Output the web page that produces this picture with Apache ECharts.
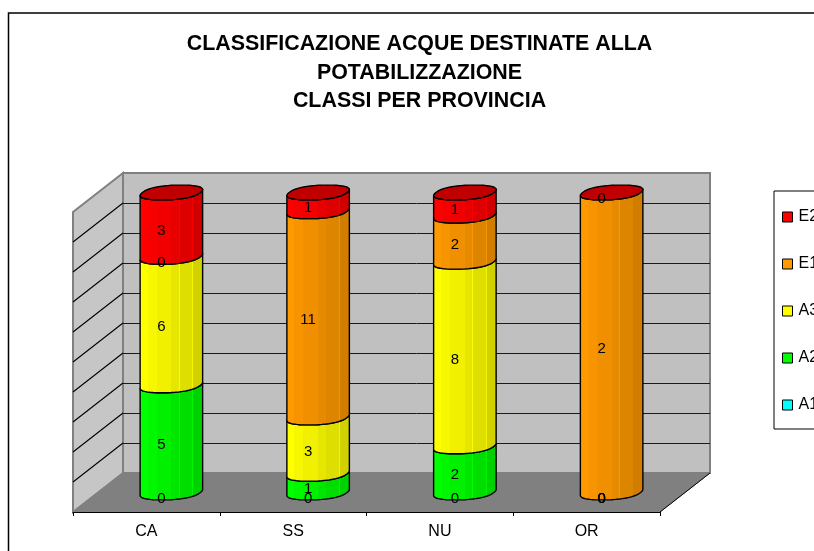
<!DOCTYPE html>
<html><head><meta charset="utf-8">
<style>html,body{margin:0;padding:0;background:#fff}#c{width:814px;height:551px}</style>
<script src="https://cdn.jsdelivr.net/npm/echarts@6/dist/echarts.min.js"></script>
</head><body><div id="c"></div>
<script>
var categories = ['CA','SS','NU','OR'];
var seriesNames = ['A1','A2','A3','E1','E2'];
var A1 = [0,0,0,0];
var A2 = [5,1,2,0];
var A3 = [6,3,8,0];
var E1 = [0,11,2,2];
var E2 = [3,1,1,0];
var seriesValues = [A1,A2,A3,E1,E2];
var legendOrder = ['E2','E1','A3','A2','A1'];
var percentTicks = [0,10,20,30,40,50,60,70,80,90,100];
var titleText = 'CLASSIFICAZIONE ACQUE DESTINATE ALLA\nPOTABILIZZAZIONE\nCLASSI PER PROVINCIA';

var FONT = '"Liberation Sans", Arial, sans-serif';
var DEPTH = [50, -39];
var RADIUS = 29, DEPTH_R = 0.19, SQUARE = 0.86;
var swatch = ['#00ffff','#00ff00','#ffff00','#ff9900','#ff0000'];
var caps = ['#00bfbf','#00c000','#c0c000','#c07300','#c00000'];

function bandGradient(h){
  var lerp = echarts.color.lerp;
  function shade(f){ return lerp(1-f,[h,'#000000']); }
  var st = [[0,1],[.13,.97],[.27,.94],[.5,.9],[.63,.87],[.84,.82]];
  var stops = [];
  st.forEach(function(s,i){
    var end = i<st.length-1 ? st[i+1][0] : 1;
    stops.push({offset:s[0],color:shade(s[1])});
    stops.push({offset:end-0.012,color:shade(s[1])});
    var edge = (s[0]===.5||s[0]===.63) ? Math.min(1,s[1]+.09) : s[1];
    stops.push({offset:end-0.012,color:shade(edge)});
    stops.push({offset:end,color:shade(edge)});
  });
  stops.push({offset:1,color:shade(.75)});
  return {type:'linear',x:0,y:0,x2:1,y2:0,colorStops:stops};
}
function soft(v){ return (v<0?-1:1)*Math.pow(Math.abs(v),SQUARE); }
function ringPoint(c,t){
  var cs=soft(Math.cos(t)), s=soft(Math.sin(t));
  return [c[0]+RADIUS*cs+DEPTH[0]*DEPTH_R*s, c[1]+DEPTH[1]*DEPTH_R*s];
}
function ring(c){
  var pts=[],N=48;
  for(var i=0;i<N;i++) pts.push(ringPoint(c,2*Math.PI*i/N));
  return pts;
}
function frontArc(c){
  // leftmost point to rightmost point along the viewer-facing side (y grows downward)
  var pts=ring(c), lo=0, hi=0, i, out=[];
  for(i=0;i<pts.length;i++){ if(pts[i][0]<pts[lo][0]) lo=i; if(pts[i][0]>pts[hi][0]) hi=i; }
  i=lo;
  while(true){ out.push(pts[i]); if(i===hi) break; i=(i+1)%pts.length; }
  return out;
}
function midDepth(p){ return [p[0]+DEPTH[0]/2,p[1]+DEPTH[1]/2]; }

function cylinderRender(si){
  return function(params,api){
    var cat=api.value(0), lo=api.value(1), hi=api.value(2), val=api.value(3);
    var b=midDepth(api.coord([cat,lo])), t=midDepth(api.coord([cat,hi]));
    var kids=[];
    if(hi>lo){
      var bot=frontArc(b), top=frontArc(t).reverse();
      kids.push({type:'polygon',z2:si*2+1,shape:{points:bot.concat(top)},
        style:{fill:bandGradient(swatch[si]),stroke:'#000',lineWidth:1.4,lineJoin:'round'}});
    }
    if(si===seriesNames.length-1){
      kids.push({type:'polygon',z2:si*2+2,shape:{points:ring(t)},
        style:{fill:caps[si],stroke:'#000',lineWidth:1.4,lineJoin:'round'}});
    }
    var m=midDepth(api.coord([cat,(lo+hi)/2]));
    kids.push({type:'text',z2:50,style:{
      x:m[0]-DEPTH[0]*0.2, y:m[1]-DEPTH[1]*0.19-1.5,
      text:String(val),fill:'#000',font:'15px '+FONT,align:'center',verticalAlign:'middle'}});
    return {type:'group',children:kids};
  };
}
function stacked(si){
  return categories.map(function(_,c){
    var tot=0,acc=0,i;
    for(i=0;i<seriesValues.length;i++) tot+=seriesValues[i][c];
    for(i=0;i<si;i++) acc+=seriesValues[i][c];
    var v=seriesValues[si][c];
    return [c,acc/tot*100,(acc+v)/tot*100,v];
  });
}
function wallsRender(params,api){
  var g=params.coordSys, L=g.x,R=g.x+g.width,T=g.y,B=g.y+g.height,dx=DEPTH[0],dy=DEPTH[1];
  return {type:'group',children:[
    {type:'polygon',z2:1,shape:{points:[[L+dx,T+dy],[R+dx,T+dy],[R+dx,B+dy],[L+dx,B+dy]]},style:{fill:'#c0c0c0',stroke:'#808080',lineWidth:2}},
    {type:'polygon',z2:1,shape:{points:[[L,T],[L+dx,T+dy],[L+dx,B+dy],[L,B]]},style:{fill:'#c6c6c6',stroke:'#808080',lineWidth:2}},
    {type:'polygon',z2:3,shape:{points:[[L,B],[L+dx,B+dy],[R+dx,B+dy],[R,B]]},style:{fill:'#808080',stroke:'#808080',lineWidth:1}},
    {type:'line',z2:4,shape:{x1:R,y1:B,x2:R+dx,y2:B+dy},style:{stroke:'#000',lineWidth:1}}
  ]};
}
function gridRender(params,api){
  var v=api.value(0), g=params.coordSys, y=api.coord([0,v])[1];
  var L=g.x,R=g.x+g.width,dx=DEPTH[0],dy=DEPTH[1];
  return {type:'group',children:[
    {type:'line',z2:2,shape:{x1:L+dx,y1:y+dy+0.5,x2:R+dx,y2:y+dy+0.5},style:{stroke:'#1a1a1a',lineWidth:1}},
    {type:'line',z2:2,shape:{x1:L,y1:y,x2:L+dx,y2:y+dy},style:{stroke:'#000',lineWidth:1.1}}
  ]};
}

var series=[
  {type:'custom',name:'walls',z:1,silent:true,clip:false,coordinateSystem:'cartesian2d',renderItem:wallsRender,data:[[0,0]],encode:{x:0,y:1}},
  {type:'custom',name:'gridlines',z:1,silent:true,clip:false,coordinateSystem:'cartesian2d',renderItem:gridRender,
   data:percentTicks.slice(1,-1).map(function(p){return [p];}),encode:{y:0}}
];
seriesNames.forEach(function(n,i){
  series.push({type:'custom',name:n,z:3,silent:true,clip:false,coordinateSystem:'cartesian2d',
    itemStyle:{color:swatch[i]},renderItem:cylinderRender(i),data:stacked(i),
    encode:{x:0,y:[1,2]},dimensions:['c','lo','hi','v']});
});

var chart=echarts.init(document.getElementById('c'),null,{renderer:'canvas'});
chart.setOption({
  animation:false,
  backgroundColor:'#fff',
  title:{text:titleText,left:414.5,textAlign:'center',top:25,
    textStyle:{fontFamily:FONT,fontWeight:'bold',fontSize:21.4,lineHeight:28.5,color:'#000'}},
  grid:{left:73,right:154,top:212,bottom:39},
  xAxis:{type:'category',data:categories,boundaryGap:true,
    axisLine:{show:true,lineStyle:{color:'#000',width:1}},
    axisTick:{show:true,alignWithLabel:false,length:4,lineStyle:{color:'#000'}},
    axisLabel:{fontFamily:FONT,fontSize:16,color:'#000',margin:12},splitLine:{show:false},z:5},
  yAxis:{type:'value',min:0,max:100,interval:10,axisLine:{show:false},axisTick:{show:false},axisLabel:{show:false},splitLine:{show:false}},
  legend:{data:legendOrder,orient:'vertical',left:774,top:191,itemWidth:10,itemHeight:10,itemGap:29,
    padding:[17,10,15,8],borderColor:'#000',borderWidth:1,selectedMode:false,icon:'rect',
    itemStyle:{borderColor:'#000',borderWidth:1},
    textStyle:{fontFamily:FONT,fontSize:16,color:'#000',lineHeight:18,padding:[0,0,0,1]}},
  graphic:[{type:'rect',silent:true,z:-1,shape:{x:8.5,y:13,width:900,height:600},style:{fill:'none',stroke:'#000',lineWidth:1.5}}],
  series:series
});
</script></body></html>
